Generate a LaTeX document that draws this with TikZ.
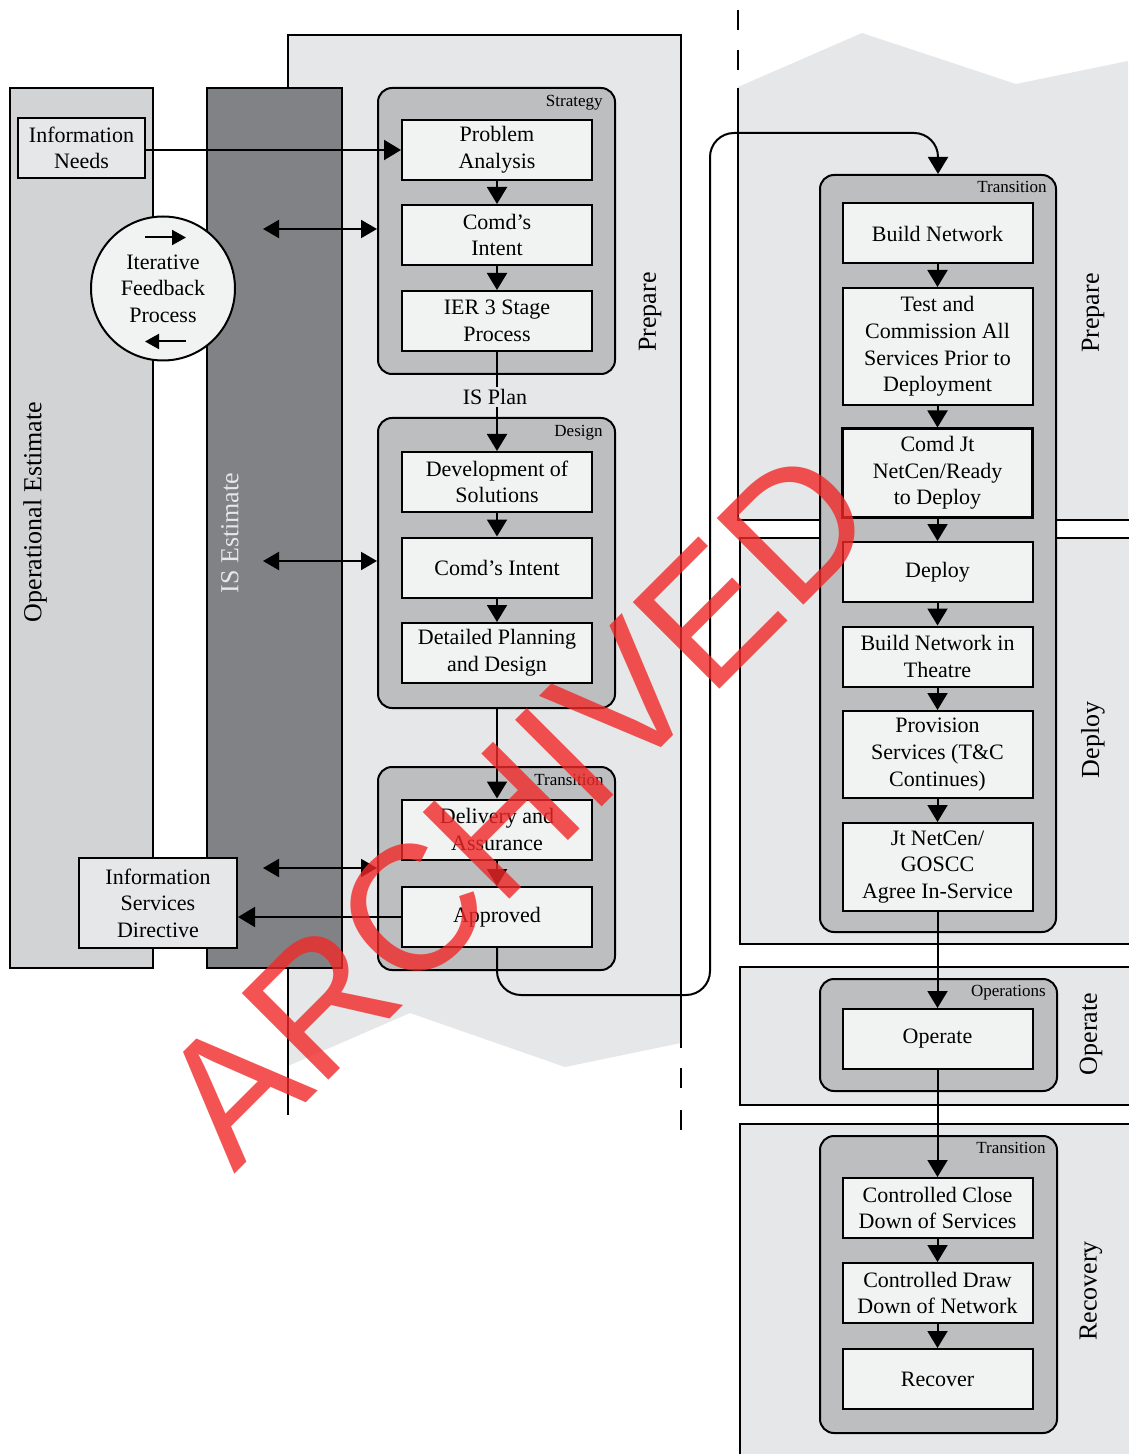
\documentclass[tikz,border=0pt]{standalone}
\usepackage{fontspec}
\setmainfont{Liberation Serif}
\newfontfamily\stampfont{Liberation Sans}
\usetikzlibrary{arrows.meta}
\usetikzlibrary{positioning}

\definecolor{panelgray}{RGB}{230,231,232}
\definecolor{opgray}{RGB}{209,211,212}
\definecolor{isgray}{RGB}{128,130,133}
\definecolor{groupgray}{RGB}{188,190,192}
\definecolor{boxwhite}{RGB}{241,242,242}
\definecolor{stampred}{RGB}{240,40,40}

\begin{document}
\begin{tikzpicture}[x=0.5pt,y=-0.5pt,
    box/.style={draw,line width=1pt,fill=boxwhite,minimum width=95pt,minimum height=30pt,
      align=center,inner sep=1pt,font=\fontsize{11}{13.3}\selectfont},
    group/.style={draw,line width=1pt,fill=groupgray,rounded corners=7pt,minimum width=118.5pt},
    grouplabel/.style={inner sep=0pt,font=\fontsize{8.5}{10}\selectfont},
    sidelabel/.style={rotate=90,inner sep=0pt,font=\fontsize{13}{15}\selectfont},
    arr/.style={line width=1pt,-{Triangle[width=10pt,length=8.5pt]}},
    darr/.style={line width=1pt,{Triangle[width=9pt,length=8pt]}-{Triangle[width=9pt,length=8pt]}},
    sarr/.style={line width=1pt,-{Triangle[width=7.5pt,length=7pt]}},
    stamp/.style={inner sep=0pt,text=stampred,text opacity=0.8,font=\stampfont\fontsize{89}{92}\selectfont}]
    \useasboundingbox (0,0) rectangle (1128,1454);

    % left panel (prepare)
    \fill[panelgray] (288,35) -- (681,35) -- (681,1043) -- (565,1067) -- (410,1013) -- (288,1066) -- cycle;
    \draw[line width=1pt] (288,1115) -- (288,35) -- (681,35) -- (681,1048);
    \draw[line width=1pt,dash pattern=on 10pt off 11pt] (681,1068) -- (681,1130);
    \node[sidelabel] (prepL) at (650,312) {Prepare};

    % right panels
    \fill[panelgray] (738,87) -- (862,33) -- (1016,84) -- (1128,61) -- (1128,520) -- (738,520) -- cycle;
    \draw[line width=1pt,dash pattern=on 10pt off 10pt] (738,10) -- (738,70);
    \draw[line width=1pt] (738,88) -- (738,520) -- (1130,520);
    \fill[panelgray] (740,538) rectangle (1130,944);
    \draw[line width=1pt] (1130,538) -- (740,538) -- (740,944) -- (1130,944);
    \fill[panelgray] (740,967) rectangle (1130,1105);
    \draw[line width=1pt] (1130,967) -- (740,967) -- (740,1105) -- (1130,1105);
    \fill[panelgray] (740,1124) rectangle (1130,1456);
    \draw[line width=1pt] (1130,1124) -- (740,1124) -- (740,1456);
    \node[sidelabel] (prepR) at (1093,313) {Prepare};
    \node[sidelabel] (deployR) at (1093,740) {Deploy};
    \node[sidelabel] (operateR) at (1091,1034) {Operate};
    \node[sidelabel] (recoveryR) at (1091,1291) {Recovery};

    % estimate columns
    \draw[line width=1pt,fill=opgray] (10,88) rectangle (153,968);
    \draw[line width=1pt,fill=isgray] (207,88) rectangle (342,968);
    \node[sidelabel] (opest) at (35,512) {Operational Estimate};
    \node[sidelabel,text=panelgray] (isest) at (230,533) {IS Estimate};

    \node[box,fill=panelgray,minimum width=63.5pt] (inb) at (81.5,148) {Information\\Needs};
    \node[box,fill=panelgray,minimum width=79pt,minimum height=45pt] (isd) at (158,903) {Information\\Services\\Directive};
    \node[box,circle,minimum width=72pt] (ifp) at (163,288.5) {Iterative\\Feedback\\Process};
    \draw[sarr] ([shift={(-18,-51)}]ifp.center) -- ++(41,0);
    \draw[sarr] ([shift={(23,53)}]ifp.center) -- ++(-41,0);

    % groups
    \node[group,minimum height=143pt] (strat) at (496.5,231) {};
    \node[group,minimum height=145pt] (design) at (496.5,563) {};
    \node[group,minimum height=101.5pt] (trans1) at (496.5,868.5) {};
    \node[group,minimum width=118pt,minimum height=378.5pt] (trans2) at (938,553.5) {};
    \node[group,minimum height=56pt] (opsg) at (938.5,1035) {};
    \node[group,minimum height=148.5pt] (trans3) at (938.5,1284.5) {};
    \node[grouplabel,below left=4pt and 6.5pt of strat.north east] (stratlbl) {Strategy};
    \node[grouplabel,below left=4pt and 6.5pt of design.north east] (designlbl) {Design};
    \node[grouplabel,below left=4pt and 6pt of trans1.north east] (trans1lbl) {Transition};
    \node[grouplabel,below left=3.5pt and 5pt of trans2.north east] (trans2lbl) {Transition};
    \node[grouplabel,below left=3.5pt and 6pt of opsg.north east] (opsglbl) {Operations};
    \node[grouplabel,below left=3.5pt and 6pt of trans3.north east] (trans3lbl) {Transition};

    % left boxes
    \node[box] (pa) at (497,150) {Problem\\Analysis};
    \node[box] (ci1) at (497,235) {Comd’s\\Intent};
    \node[box] (ier) at (497,321) {IER 3 Stage\\Process};
    \node[font=\fontsize{11}{13}\selectfont,inner sep=1pt] (isplan) at (495,397) {IS Plan};
    \node[box] (dev) at (497,482) {Development of\\Solutions};
    \node[box] (ci2) at (497,567.5) {Comd’s Intent};
    \node[box] (dpd) at (497,653) {Detailed Planning\\and Design};
    \node[box] (del) at (497,829.5) {Delivery and\\Assurance};
    \node[box] (app) at (497,917) {Approved};

    % right boxes
    \node[box] (bn) at (937.5,233.5) {Build Network};
    \node[box,minimum height=58.5pt] (tc) at (937.5,346.5) {Test and\\Commission All\\Services Prior to\\Deployment};
    \node[box,line width=1.5pt,minimum height=44pt] (cj) at (937.5,473) {Comd Jt\\NetCen/Ready\\to Deploy};
    \node[box] (dep) at (937.5,572) {Deploy};
    \node[box] (bnt) at (937.5,656.5) {Build Network in\\Theatre};
    \node[box,minimum height=43.5pt] (prov) at (937.5,754.5) {Provision\\Services (T\&C\\Continues)};
    \node[box,minimum height=44pt] (jt) at (937.5,867) {Jt NetCen/\\GOSCC\\Agree In-Service};
    \node[box] (op) at (937.5,1039) {Operate};
    \node[box] (ccd) at (937.5,1208) {Controlled Close\\Down of Services};
    \node[box] (cdd) at (937.5,1293) {Controlled Draw\\Down of Network};
    \node[box] (rec) at (937.5,1379) {Recover};

    % connectors
    \draw[arr] (inb.east |- pa.west) -- (pa.west);
    \coordinate (fb1) at (263,229);
    \coordinate (fb2) at (263,561);
    \coordinate (fb3) at (263,868);
    \draw[darr] (fb1) -- (fb1 -| strat.west);
    \draw[darr] (fb2) -- (fb2 -| design.west);
    \draw[darr] (fb3) -- (fb3 -| trans1.west);
    \draw[arr] (pa) -- (ci1);
    \draw[arr] (ci1) -- (ier);
    \draw[line width=1pt] (ier.south) -- (ier.south |- isplan.north);
    \draw[arr] (dev.north |- isplan.south) -- (dev.north);
    \draw[arr] (dev) -- (ci2);
    \draw[arr] (ci2) -- (dpd);
    \draw[arr] (design.south -| del.north) -- (del.north);
    \draw[arr] (del) -- (app);
    \draw[arr] (app.west) -- (app.west -| isd.east);
    \coordinate (lowturn) at (710,995);
    \coordinate (highturn) at (710,133);
    \draw[arr,rounded corners=12pt] (app.south) |- (lowturn) -- (highturn) -| (trans2.north);
    \draw[arr] (bn) -- (tc);
    \draw[arr] (tc) -- (cj);
    \draw[arr] (cj) -- (dep);
    \draw[arr] (dep) -- (bnt);
    \draw[arr] (bnt) -- (prov);
    \draw[arr] (prov) -- (jt);
    \draw[arr] (jt) -- (op);
    \draw[arr] (op) -- (ccd);
    \draw[arr] (ccd) -- (cdd);
    \draw[arr] (cdd) -- (rec);

    % watermark
    \node[stamp,rotate=45,anchor=base west] (archived) at (234,1175) {ARCHIVED};
\end{tikzpicture}
\end{document}
